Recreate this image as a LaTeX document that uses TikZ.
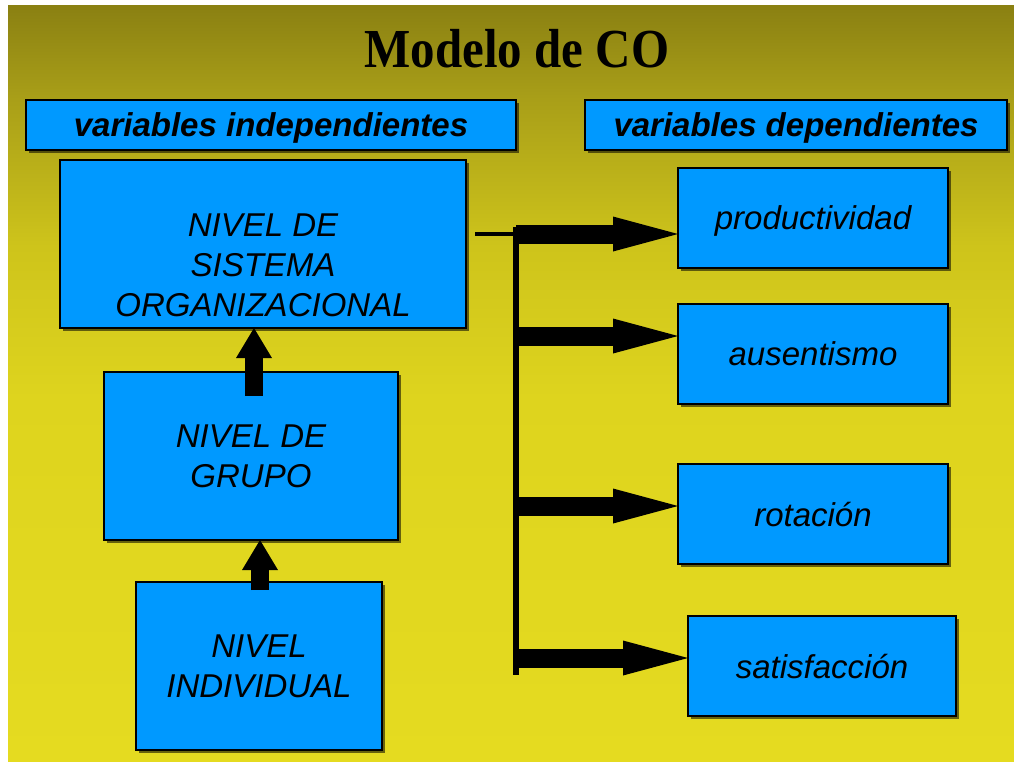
\documentclass[tikz,border=0pt]{standalone}
\usepackage{fontspec}
\setmainfont{Liberation Serif}
\newfontfamily\arialf{Liberation Sans}
\usetikzlibrary{arrows.meta,shadows}
\definecolor{boxblue}{RGB}{0,153,255}
\definecolor{bgA}{RGB}{229,219,32}
\definecolor{bgB}{RGB}{222,212,30}
\definecolor{bgC}{RGB}{206,196,27}
\definecolor{bgD}{RGB}{168,158,24}
\definecolor{bgE}{RGB}{138,128,18}
\pgfdeclareverticalshading{bgshade}{100bp}{color(0bp)=(bgA); color(25bp)=(bgA); color(49bp)=(bgB); color(59bp)=(bgC); color(69bp)=(bgD); color(75bp)=(bgE); color(100bp)=(bgE)}
\begin{document}
\begin{tikzpicture}[x=1pt,y=-1pt,
  bluebox/.style={draw=black, line width=1.6pt, fill=boxblue, inner sep=0pt, outer sep=0pt,
    drop shadow={shadow xshift=2.5pt, shadow yshift=-2.5pt, fill=black, opacity=0.55}},
  boxtext/.style={font=\arialf\itshape\fontsize{33}{40}\selectfont, align=center, text depth=0pt},
  headtext/.style={font=\arialf\bfseries\itshape\fontsize{33}{40}\selectfont, text depth=0pt},
  upar/.style={line width=18pt, -{Triangle[length=30pt,width=36pt,line width=0pt]}},
  rightar/.style={line width=19pt, -{Triangle[length=65pt,width=35pt,line width=0pt]}},
  busline/.style={line width=6pt},
  thinline/.style={line width=4pt}
]
\useasboundingbox (0,0) rectangle (1014,761);
\fill[white] (0,0) rectangle (1014,761);
\shade[shading=bgshade] (8,5) rectangle (1014,761);

\node[font=\bfseries\fontsize{55}{55}\selectfont, anchor=base] (title) at (517,67) {\scalebox{0.89}[1]{Modelo de CO}};

\node[bluebox, headtext, minimum width=490pt, minimum height=50pt] (vi) at (271,125) {variables independientes};
\node[bluebox, headtext, minimum width=422pt, minimum height=50pt] (vd) at (796,125) {variables dependientes};

\node[bluebox, minimum width=406pt, minimum height=168pt,
  label={[boxtext, yshift=-21pt]center:NIVEL DE\\SISTEMA\\ORGANIZACIONAL}] (sis) at (263,244) {};
\node[bluebox, boxtext, minimum width=294pt, minimum height=168pt] (gru) at (251,456) {NIVEL DE\\GRUPO};
\node[bluebox, boxtext, minimum width=246pt, minimum height=168pt] (ind) at (259,666) {NIVEL\\INDIVIDUAL};

\node[bluebox, boxtext, minimum width=270pt, minimum height=100pt] (prod) at (813,218) {productividad};
\node[bluebox, boxtext, minimum width=270pt, minimum height=100pt] (aus) at (813,354) {ausentismo};
\node[bluebox, boxtext, minimum width=270pt, minimum height=100pt] (rot) at (813,514) {rotación};
\node[bluebox, boxtext, minimum width=268pt, minimum height=100pt] (sat) at (822,666) {satisfacción};

% upward arrows
\coordinate (u1s) at ([xshift=3pt,yshift=-24pt]gru.north);
\coordinate (u1e) at (u1s |- sis.south);
\draw[upar] (u1s) -- (u1e);
\coordinate (u2s) at ([xshift=1pt,yshift=-8pt]ind.north);
\coordinate (u2e) at (u2s |- gru.south);
\draw[upar] (u2s) -- (u2e);

% bus and right arrows
\coordinate (bt) at (516,227);
\coordinate (bb) at (516,675);
\coordinate (b1) at (516,234);
\coordinate (b2) at (516,336);
\coordinate (b3) at (516,506);
\coordinate (b4) at (516,658);
\coordinate (se) at ([xshift=9pt]sis.east);
\draw[busline] (bt) -- (bb);
\draw[thinline] (se |- b1) -- (b1);
\draw[rightar] (b1) -- (b1 -| prod.west);
\draw[rightar] (b2) -- (b2 -| aus.west);
\draw[rightar] (b3) -- (b3 -| rot.west);
\draw[rightar] (b4) -- (b4 -| sat.west);
\end{tikzpicture}
\end{document}
